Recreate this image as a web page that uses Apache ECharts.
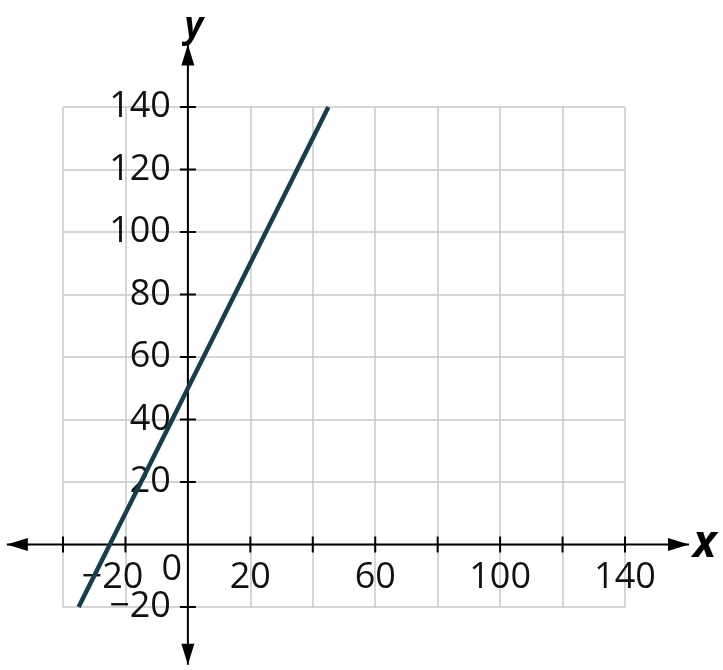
<!DOCTYPE html>
<html>
<head>
<meta charset="utf-8">
<script src="https://cdn.jsdelivr.net/npm/echarts@6/dist/echarts.min.js"></script>
<style>
  html, body { margin: 0; padding: 0; background: #fff; }
  #chart { width: 723px; height: 670px; }
</style>
</head>
<body>
<div id="chart"></div>
<script>
// line y = 2x + 50, drawn between its two end points
var lineX = [-35, 45];
var lineY = [-20, 140];

// tick positions and which ones get a label
var xTicks = [-40, -20, 20, 40, 60, 80, 100, 120, 140];
var yTicks = [-20, 20, 40, 60, 80, 100, 120, 140];
var xLabels = [-20, 20, 60, 100, 140];
var yLabels = [-20, 20, 40, 60, 80, 100, 120, 140];

// where the arrow tips of the two axes sit (data units)
var xAxisEnds = [-58, 160.5];
var yAxisEnds = [-38.5, 160];

var chart = echarts.init(document.getElementById('chart'));

var font = '"Open Sans", "Noto Sans", sans-serif';
var textColor = '#111';
var fontSize = 36;

function fmt(v) {
  return v < 0 ? '−' + (-v) : String(v);
}

var lineData = [];
for (var i = 0; i < lineX.length; i++) {
  lineData.push([lineX[i], lineY[i]]);
}
var xTickData = xTicks.map(function (v) { return [v, 0]; });
var yTickData = yTicks.map(function (v) { return [0, v]; });
var xLabelData = xLabels.map(function (v) {
  return {
    value: [v, 0],
    // the minus sign hangs out to the left, digits stay centred on the tick
    label: { offset: [v < 0 ? -13 : 0, 33] }
  };
});
var yLabelData = yLabels.map(function (v) { return [0, v]; });
var axisData = [
  [xAxisEnds[0], 0, xAxisEnds[1], 0],
  [0, yAxisEnds[0], 0, yAxisEnds[1]]
];

function arrowHead(tip, from) {
  var dx = tip[0] - from[0], dy = tip[1] - from[1];
  var len = Math.sqrt(dx * dx + dy * dy);
  var ux = dx / len, uy = dy / len;
  var L = 21, W = 6.5;
  var bx = tip[0] - ux * L, by = tip[1] - uy * L;
  return {
    type: 'polygon',
    shape: { points: [tip, [bx - uy * W, by + ux * W], [bx + uy * W, by - ux * W]] },
    style: { fill: '#000' }
  };
}

function renderAxis(params, api) {
  var p1 = api.coord([api.value(0), api.value(1)]);
  var p2 = api.coord([api.value(2), api.value(3)]);
  return {
    type: 'group',
    children: [
      {
        type: 'line',
        shape: { x1: p1[0], y1: p1[1], x2: p2[0], y2: p2[1] },
        style: { stroke: '#000', lineWidth: 2 }
      },
      arrowHead(p1, p2),
      arrowHead(p2, p1)
    ]
  };
}

var labelStyle = {
  show: true,
  fontSize: fontSize,
  fontFamily: font,
  color: textColor,
  formatter: function (p) { return fmt(p.value[p.seriesIndex === 3 ? 0 : 1]); }
};

var option = {
  animation: false,
  grid: {
    left: 63,
    right: 98,
    top: 107,
    bottom: 63,
    containLabel: false,
    outerBoundsMode: 'none'
  },
  xAxis: {
    type: 'value',
    min: -40,
    max: 140,
    interval: 20,
    axisLine: { show: false },
    axisTick: { show: false },
    axisLabel: { show: false },
    splitLine: { lineStyle: { color: '#c8c8c8', width: 1.5 } },
    name: 'x',
    nameLocation: 'end',
    nameGap: 68,
    nameTextStyle: {
      fontSize: 44,
      fontStyle: 'italic',
      fontWeight: 'bold',
      fontFamily: font,
      color: '#000',
      verticalAlign: 'middle'
    }
  },
  yAxis: {
    type: 'value',
    min: -20,
    max: 140,
    interval: 20,
    axisLine: { show: false },
    axisTick: { show: false },
    axisLabel: { show: false },
    splitLine: { lineStyle: { color: '#c8c8c8', width: 1.5 } },
    name: 'y',
    nameLocation: 'end',
    nameGap: 62,
    nameTextStyle: {
      fontSize: 36,
      fontStyle: 'italic',
      fontWeight: 'bold',
      fontFamily: font,
      color: '#000',
      padding: [0, 0, 0, 12]
    }
  },
  series: [
    {
      // both axes, with arrow heads at each end
      type: 'custom',
      silent: true,
      clip: false,
      data: axisData,
      renderItem: renderAxis,
      z: 3
    },
    {
      type: 'scatter',
      silent: true,
      clip: false,
      data: xTickData,
      symbol: 'rect',
      symbolSize: [2, 16],
      itemStyle: { color: '#000', opacity: 1 },
      z: 3
    },
    {
      type: 'scatter',
      silent: true,
      clip: false,
      data: yTickData,
      symbol: 'rect',
      symbolSize: [16, 2],
      itemStyle: { color: '#000', opacity: 1 },
      z: 3
    },
    {
      // x tick labels
      type: 'scatter',
      silent: true,
      clip: false,
      data: xLabelData,
      symbolSize: 0,
      itemStyle: { opacity: 1 },
      label: Object.assign({ position: 'inside' }, labelStyle),
      z: 4
    },
    {
      // y tick labels
      type: 'scatter',
      silent: true,
      clip: false,
      data: yLabelData,
      symbolSize: 0,
      itemStyle: { opacity: 1 },
      label: Object.assign({ position: 'left', distance: 17 }, labelStyle),
      z: 4
    },
    {
      // origin label
      type: 'scatter',
      silent: true,
      clip: false,
      data: [[0, 0]],
      symbolSize: 0,
      itemStyle: { opacity: 1 },
      label: {
        show: true,
        formatter: '0',
        position: 'inside',
        offset: [-16, 25],
        fontSize: fontSize,
        fontFamily: font,
        color: textColor
      },
      z: 4
    },
    {
      type: 'line',
      data: lineData,
      showSymbol: false,
      clip: false,
      lineStyle: { color: '#1b3d4b', width: 4.5, cap: 'butt' },
      z: 5
    }
  ]
};

chart.setOption(option);
</script>
</body>
</html>
